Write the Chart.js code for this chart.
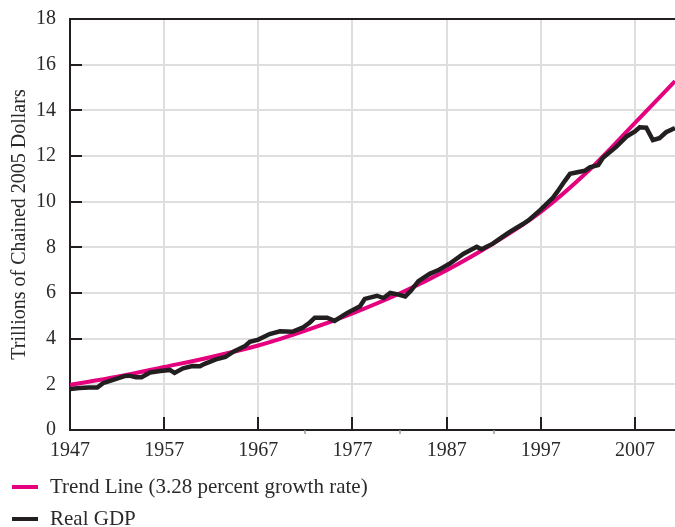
<!DOCTYPE html>
<html>
<head>
<meta charset="utf-8">
<title>Real GDP and Trend Line</title>
<script src="https://cdn.jsdelivr.net/npm/chart.js@4.4.0/dist/chart.umd.min.js"></script>
<style>
    html, body { margin: 0; padding: 0; background: #fff; }
    #wrap { width: 675px; height: 527px; }
</style>
</head>
<body>
<div id="wrap"><canvas id="gdpChart" width="675" height="527"></canvas></div>
<script>
// Axis ticks
const xTicks = [1947, 1957, 1967, 1977, 1987, 1997, 2007];
const minorXTicks = [1972, 1982, 1992];
const yTicks = [0, 2, 4, 6, 8, 10, 12, 14, 16, 18];

// Real GDP, trillions of chained 2005 dollars
const gdpYears = [
    1947.0, 1948.0, 1949.0, 1949.9, 1950.5, 1951.5, 1952.8, 1953.3, 1954.0, 1954.6,
    1955.5, 1956.6, 1957.6, 1958.1, 1959.0, 1960.0, 1960.8, 1961.3, 1962.5, 1963.5,
    1964.4, 1965.6, 1966.1, 1967.0, 1968.2, 1969.3, 1970.6, 1971.7, 1972.5, 1973.0,
    1974.3, 1975.1, 1976.4, 1977.8, 1978.3, 1979.6, 1980.3, 1981.0, 1981.7, 1982.6,
    1983.2, 1984.0, 1985.2, 1986.2, 1987.3, 1988.8, 1990.2, 1990.7, 1991.9, 1993.0,
    1993.7, 1995.1, 1995.8, 1996.9, 1998.3, 1998.8, 1999.5, 2000.1, 2001.0, 2001.7,
    2002.2, 2003.1, 2003.6, 2005.0, 2006.1, 2007.0, 2007.5, 2008.2, 2008.9, 2009.6,
    2010.3, 2011.25
];
const gdpValues = [
    1.80, 1.84, 1.86, 1.86, 2.05, 2.18, 2.36, 2.38, 2.31, 2.31,
    2.52, 2.58, 2.63, 2.50, 2.70, 2.80, 2.79, 2.90, 3.09, 3.20,
    3.44, 3.68, 3.86, 3.96, 4.20, 4.32, 4.30, 4.48, 4.72, 4.92,
    4.92, 4.78, 5.12, 5.42, 5.74, 5.88, 5.78, 6.00, 5.95, 5.85,
    6.10, 6.52, 6.84, 7.02, 7.28, 7.72, 8.02, 7.92, 8.16, 8.48,
    8.68, 9.02, 9.22, 9.62, 10.18, 10.46, 10.88, 11.22, 11.30, 11.36,
    11.50, 11.60, 11.92, 12.40, 12.85, 13.08, 13.26, 13.24, 12.70, 12.78,
    13.04, 13.22
];

// Trend line (3.28 percent growth rate)
const trendYears = [1947, 1952, 1957, 1962, 1967, 1972, 1977, 1982, 1987, 1992, 1997, 2002, 2007, 2011.25];
const trendValues = [1.97, 2.33, 2.76, 3.20, 3.70, 4.35, 5.11, 5.98, 7.00, 8.18, 9.55, 11.33, 13.45, 15.28];

const ink = '#231f20';
const magenta = '#e5007e';
const gridColor = '#dedede';
const serif = "'Liberation Serif', 'Times New Roman', serif";

function toPoints(xs, ys) {
    return xs.map((x, i) => ({ x: x, y: ys[i] }));
}

// Tick marks inside the plot, top frame line and the stacked legend
const axisMarks = {
    id: 'axisMarks',
    beforeDatasetsDraw(chart) {
        const { ctx, chartArea: a, scales: { x, y } } = chart;
        ctx.save();
        ctx.strokeStyle = ink;
        ctx.lineWidth = 2;
        ctx.beginPath();
        yTicks.forEach(v => {
            if (v === 0 || v === 18) return;
            const py = Math.round(y.getPixelForValue(v));
            ctx.moveTo(a.left, py);
            ctx.lineTo(a.left + 12, py);
        });
        xTicks.forEach(v => {
            if (v === 1947) return;
            const px = Math.round(x.getPixelForValue(v));
            ctx.moveTo(px, a.bottom);
            ctx.lineTo(px, a.bottom - 13);
        });
        ctx.stroke();

        ctx.strokeStyle = '#9a9a9a';
        ctx.lineWidth = 1.5;
        ctx.beginPath();
        minorXTicks.forEach(v => {
            const px = Math.round(x.getPixelForValue(v));
            ctx.moveTo(px, a.bottom);
            ctx.lineTo(px, a.bottom + 4);
        });
        ctx.stroke();

        // top frame
        ctx.strokeStyle = ink;
        ctx.lineWidth = 2;
        ctx.beginPath();
        ctx.moveTo(a.left - 1, a.top);
        ctx.lineTo(chart.width, a.top);
        ctx.stroke();
        ctx.restore();
    },
    afterDraw(chart) {
        const ctx = chart.ctx;
        const rows = [
            { ds: chart.data.datasets[1], y: 487 },
            { ds: chart.data.datasets[0], y: 519 }
        ];
        ctx.save();
        ctx.font = '21px ' + serif;
        ctx.textBaseline = 'middle';
        ctx.textAlign = 'left';
        rows.forEach(r => {
            ctx.strokeStyle = r.ds.borderColor;
            ctx.lineWidth = 4;
            ctx.beginPath();
            ctx.moveTo(12, r.y);
            ctx.lineTo(38, r.y);
            ctx.stroke();
            ctx.fillStyle = '#2a2a2a';
            ctx.fillText(r.ds.label, 50, r.y);
        });
        ctx.restore();
    }
};

const chart = new Chart(document.getElementById('gdpChart'), {
    type: 'line',
    data: {
        datasets: [
            {
                label: 'Real GDP',
                data: toPoints(gdpYears, gdpValues),
                borderColor: ink,
                borderWidth: 4.5,
                pointRadius: 0,
                tension: 0,
                fill: false
            },
            {
                label: 'Trend Line (3.28 percent growth rate)',
                data: toPoints(trendYears, trendValues),
                borderColor: magenta,
                borderWidth: 4,
                pointRadius: 0,
                tension: 0.4,
                cubicInterpolationMode: 'monotone',
                fill: false
            }
        ]
    },
    options: {
        responsive: false,
        animation: false,
        layout: { padding: { top: 19, right: 0, bottom: 0, left: 0 } },
        plugins: {
            legend: { display: false },
            tooltip: { enabled: false }
        },
        scales: {
            x: {
                type: 'linear',
                min: 1947,
                max: 2011.25,
                afterBuildTicks: scale => {
                    scale.ticks = xTicks.map(v => ({ value: v }));
                },
                afterFit: scale => {
                    scale.height = 97;
                    scale.paddingLeft = 0;
                    scale.paddingRight = 0;
                },
                grid: { color: gridColor, lineWidth: 2, drawTicks: false },
                border: { color: ink, width: 2 },
                ticks: {
                    color: '#2a2a2a',
                    font: { family: serif, size: 20 },
                    padding: 9,
                    maxRotation: 0,
                    callback: v => String(v)
                }
            },
            y: {
                min: 0,
                max: 18,
                afterBuildTicks: scale => {
                    scale.ticks = yTicks.map(v => ({ value: v }));
                },
                afterFit: scale => {
                    scale.width = 70;
                    scale.paddingTop = 0;
                    scale.paddingBottom = 0;
                },
                grid: { color: gridColor, lineWidth: 2, drawTicks: false },
                border: { color: ink, width: 2 },
                ticks: {
                    color: '#2a2a2a',
                    font: { family: serif, size: 20 },
                    padding: 14
                },
                title: {
                    display: true,
                    text: 'Trillions of Chained 2005 Dollars',
                    color: '#2a2a2a',
                    font: { family: serif, size: 20 },
                    padding: { top: 8, bottom: 0 }
                }
            }
        }
    },
    plugins: [axisMarks]
});
</script>
</body>
</html>
